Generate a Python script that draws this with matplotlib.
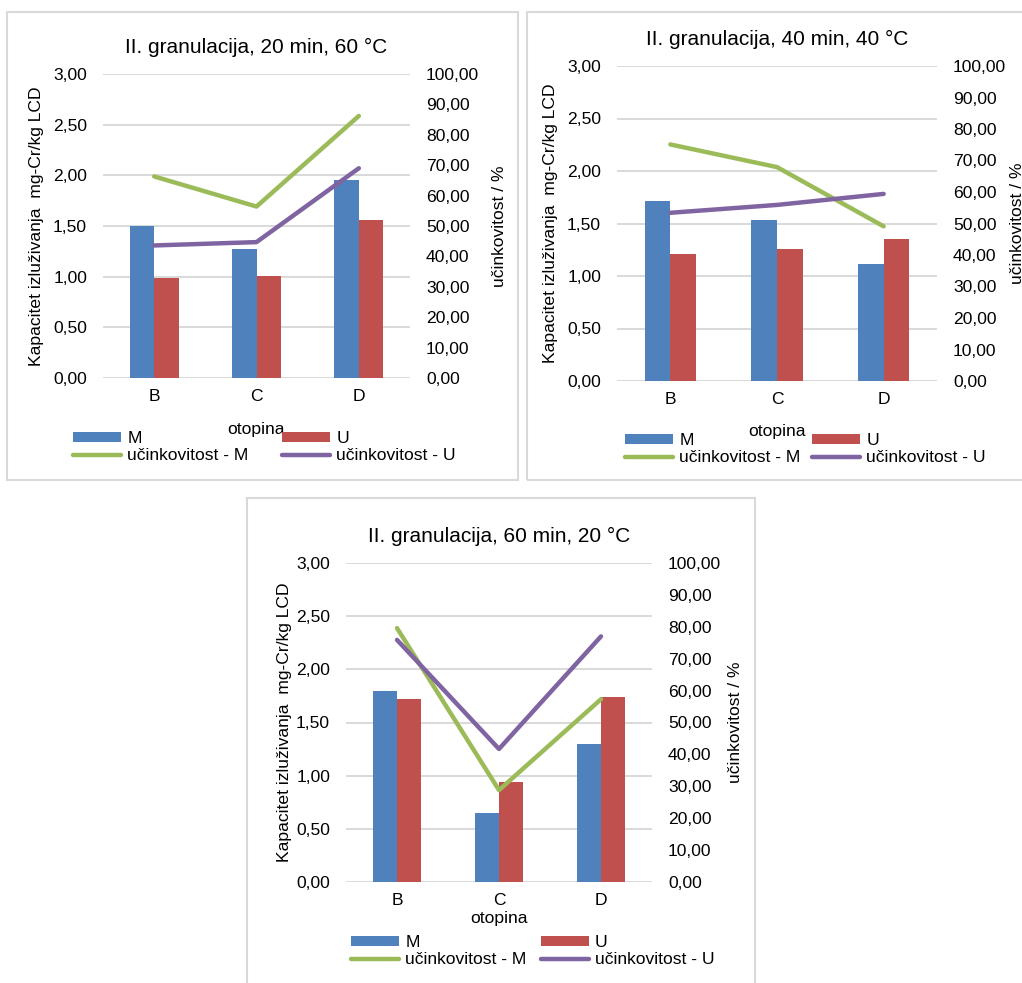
import matplotlib.pyplot as plt
from matplotlib.patches import Rectangle
from matplotlib.ticker import FuncFormatter, MultipleLocator
import numpy as np

plt.rcParams['font.family'] = ['Liberation Sans', 'DejaVu Sans']

# podaci
otopine = ['B', 'C', 'D']
naslovi = ['II. granulacija, 20 min, 60 °C',
           'II. granulacija, 40 min, 40 °C',
           'II. granulacija, 60 min, 20 °C']

kap_M_20 = [1.50, 1.27, 1.95]
kap_U_20 = [0.99, 1.01, 1.56]
uc_M_20 = [66.3, 56.4, 86.2]
uc_U_20 = [43.6, 44.7, 69.0]

kap_M_40 = [1.71, 1.53, 1.11]
kap_U_40 = [1.21, 1.26, 1.35]
uc_M_40 = [75.1, 67.9, 49.1]
uc_U_40 = [53.4, 55.9, 59.4]

kap_M_60 = [1.80, 0.65, 1.30]
kap_U_60 = [1.72, 0.94, 1.74]
uc_M_60 = [79.6, 28.8, 57.3]
uc_U_60 = [75.9, 41.7, 77.0]

W, H = 1022, 983
PLAVA, CRVENA, ZELENA, LJUBICASTA = '#4F81BD', '#C0504D', '#9BBB59', '#8064A2'
SIVA = '#D9D9D9'
FS = 12.6

fig = plt.figure(figsize=(W / 100, H / 100), dpi=100)


def px(x0, y0, x1, y1):
    # pikseli -> koordinate figure
    return [x0 / W, 1 - y1 / H, (x1 - x0) / W, (y1 - y0) / H]


def zarez(v, _):
    return f'{v:.2f}'.replace('.', ',')


def graf(okvir, podrucje, naslov, kM, kU, uM, uU, lab_x, lab_y, leg_xy, col_sp):
    fig.patches.append(Rectangle((okvir[0] / W, 1 - okvir[3] / H),
                                 (okvir[2] - okvir[0]) / W, (okvir[3] - okvir[1]) / H,
                                 transform=fig.transFigure, fill=False,
                                 edgecolor=SIVA, linewidth=1.5))
    ax = fig.add_axes(px(*podrucje))
    x = np.arange(len(otopine))
    w = 0.24
    bM = ax.bar(x - w / 2, kM, w, color=PLAVA, label='M', zorder=2)
    bU = ax.bar(x + w / 2, kU, w, color=CRVENA, label='U', zorder=2)
    ax.set_xlim(-0.5, 2.5)
    ax.set_ylim(0, 3)
    ax.yaxis.set_major_locator(MultipleLocator(0.5))
    ax.yaxis.set_major_formatter(FuncFormatter(zarez))
    ax.grid(axis='y', color=SIVA, linewidth=1.4, zorder=0)
    ax.set_axisbelow(True)
    for s in ax.spines.values():
        s.set_visible(False)
    ax.set_xticks(x, otopine)
    ax.tick_params(length=0, labelsize=FS, pad=8)
    ax.tick_params(axis='y', pad=11.5)
    ax.set_title(naslov, fontsize=15, pad=15)
    ax.set_ylabel('Kapacitet izluživanja  mg-Cr/kg LCD', fontsize=FS)
    ax.yaxis.label.set_va('center')
    ax.yaxis.set_label_coords(lab_y[0], 0.5)
    ax.set_xlabel('otopina', fontsize=FS)
    ax.xaxis.set_label_coords(0.5, lab_x)
    ax.xaxis.label.set_va('center')

    ax2 = ax.twinx()
    lM, = ax2.plot(x, uM, color=ZELENA, lw=3.2, solid_capstyle='round',
                   solid_joinstyle='round', label='učinkovitost - M')
    lU, = ax2.plot(x, uU, color=LJUBICASTA, lw=3.2, solid_capstyle='round',
                   solid_joinstyle='round', label='učinkovitost - U')
    ax2.set_ylim(0, 100)
    ax2.yaxis.set_major_locator(MultipleLocator(10))
    ax2.yaxis.set_major_formatter(FuncFormatter(zarez))
    for s in ax2.spines.values():
        s.set_visible(False)
    ax2.tick_params(length=0, labelsize=FS, pad=11.5)
    ax2.set_ylabel('učinkovitost / %', fontsize=FS)
    ax2.yaxis.label.set_va('center')
    ax2.yaxis.set_label_coords(lab_y[1], 0.5)

    fig.legend([bM, lM, bU, lU], ['M', 'učinkovitost - M', 'U', 'učinkovitost - U'],
               ncol=2, loc='upper left',
               bbox_to_anchor=(leg_xy[0] / W, 1 - leg_xy[1] / H),
               frameon=False, fontsize=FS, handlelength=2.75, handleheight=0.5,
               handletextpad=0.35, labelspacing=0.12, borderpad=0, borderaxespad=0,
               columnspacing=col_sp)


graf((7, 12, 518, 480), (103, 74, 410, 378), naslovi[0],
     kap_M_20, kap_U_20, uc_M_20, uc_U_20, -0.17, (-0.218, 1.29), (73, 431), 1.92)
graf((527, 12, 1032, 480), (617, 66, 937, 381), naslovi[1],
     kap_M_40, kap_U_40, uc_M_40, uc_U_40, -0.16, (-0.209, 1.253), (625, 433), 0.67)
graf((247, 498, 755, 990), (346, 563, 652, 882), naslovi[2],
     kap_M_60, kap_U_60, uc_M_60, uc_U_60, -0.113, (-0.201, 1.273), (351, 935), 0.8)

fig.savefig('out.png', dpi=100, facecolor='white')
